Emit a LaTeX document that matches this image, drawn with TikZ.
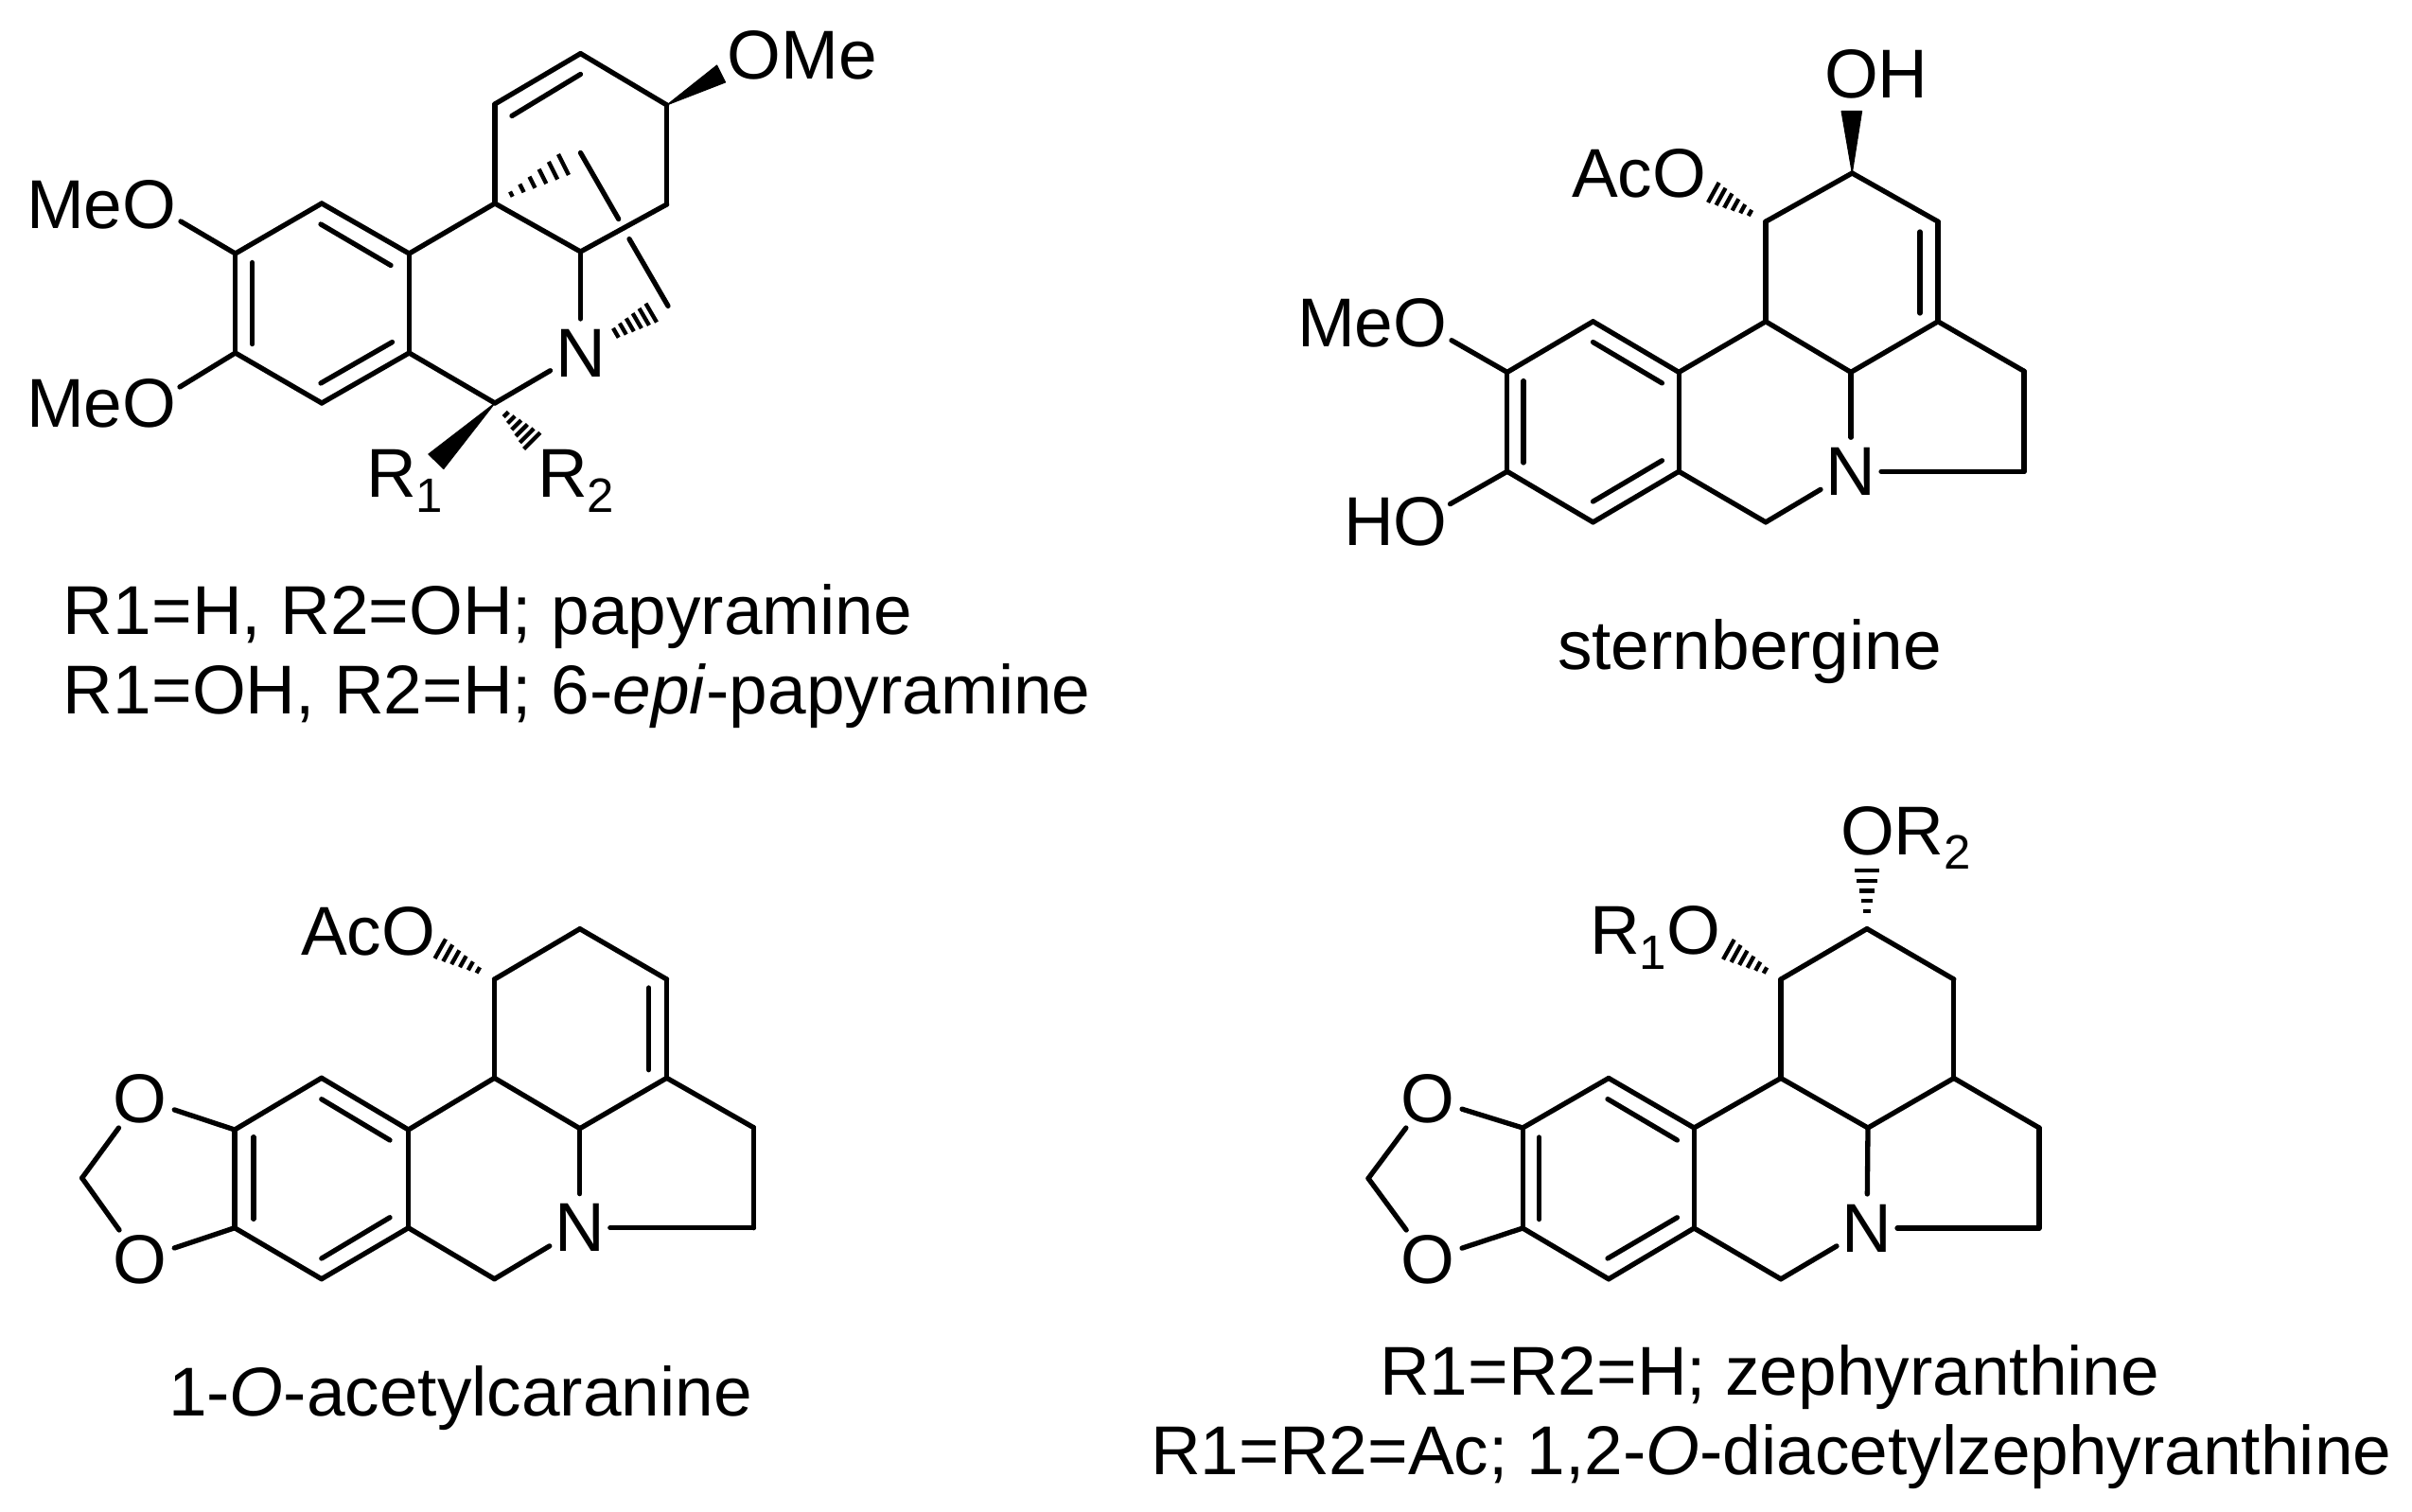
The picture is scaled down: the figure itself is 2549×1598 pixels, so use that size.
\documentclass[tikz,border=0pt]{standalone}
\usepackage{fontspec}
\setmainfont{Liberation Sans}
\usetikzlibrary{calc}
\newcommand{\sbs}[1]{\raisebox{-0.155cm}{\fontsize{14.5pt}{14.5pt}\selectfont #1}}
\newcommand{\hashbond}[5]{%
  \foreach \k in {0,...,#5}{%
    \pgfmathsetmacro{\tt}{#4+(1-#4)*\k/#5}%
    \draw[hashline] ($(#1)!\tt!(#2)$) -- ($(#1)!\tt!(#3)$);
  }}
\tikzset{
  bond/.style={line width=0.053cm,line cap=round,line join=round,black},
  hashline/.style={line width=0.043cm,black},
  wedgefill/.style={fill=black,draw=black,line width=0.01cm,line join=round},
  txt/.style={inner sep=0pt,outer sep=0pt,anchor=base west,black},
  atomN/.style={inner sep=0pt,outer sep=0pt,rectangle,minimum width=0.64cm,minimum height=0.72cm,black},
  atomO/.style={inner sep=0pt,outer sep=0pt,rectangle,minimum width=0.72cm,minimum height=0.62cm,black}
}
\begin{document}
\begin{tikzpicture}[x=0.01cm,y=-0.01cm,font=\fontsize{20.77pt}{24pt}\selectfont]
\path[use as bounding box] (0,0) rectangle (2549,1598);

% ---------- molecule 1: papyramine
\foreach \n/\x/\y in {a1/248.7/268,a2/340/215,a3/432.4/268,a4/432.4/373,a5/340/426,a6/248.7/373,
  a7/523/215,a8/613.5/266,a9/704.7/216,a10/704.7/111,a11/613.5/56.6,a12/523/110,a13/523/426,
  ai1/266.6/277.5,ai2/266.6/363.6,ai3/339/237,ai4/413/280.5,ai5/339/405,ai6/414.5/361.6,ai7/541/122.5,ai8/613.5/78.5,
  ae1/191/234,ae2/190/409,ab1/613.5/161.5,ab2/653.7/231.5,ab3/665/252.6,ab4/706/323.4,
  aw1/757.6/69,aw2/766.6/87,aw3/452.8/480,aw4/468.8/495.6,
  ah1/590/163,ah2/601/185,ah3/682.4/320.7,ah4/694/340.6,ah5/553.6/474.6,ah6/570.8/457.3}
  {\coordinate (\n) at (\x,\y);}
\node[atomN] (aN) at (613.5,373) {N};
\node[txt] (aOMe) at (768.5,84) {OMe};
\node[txt] (aMeO1) at (28,242) {MeO};
\node[txt] (aMeO2) at (28,452) {MeO};
\node[txt] (aR1) at (387,526) {R\sbs{1}};
\node[txt] (aR2) at (568,526) {R\sbs{2}};
\foreach \p/\q in {a1/a2,a2/a3,a3/a4,a4/a5,a5/a6,a6/a1,a3/a7,a7/a8,a8/a9,a9/a10,a10/a11,a11/a12,a12/a7,a4/a13,
  ai1/ai2,ai3/ai4,ai5/ai6,ai7/ai8,a1/ae1,a6/ae2,ab1/ab2,ab3/ab4}
  {\draw[bond] (\p) -- (\q);}
\draw[bond] (a8) -- (aN);
\draw[bond] (a13) -- (aN);
\fill[wedgefill] (a10) -- (aw1) -- (aw2) -- cycle;
\fill[wedgefill] (a13) -- (aw3) -- (aw4) -- cycle;
\hashbond{a7}{ah1}{ah2}{0.24}{5}
\hashbond{aN}{ah3}{ah4}{0.5}{5}
\hashbond{a13}{ah5}{ah6}{0.3}{5}

% ---------- molecule 2: sternbergine
\foreach \n/\x/\y in {b1/1592.8/393.4,b2/1683.5/339.8,b3/1774.2/393.4,b4/1774.2/498.3,b5/1683.5/551.9,b6/1592.8/498.3,
  b7/1866/339.8,b8/1866/234.2,b9/1957.3/183,b10/2048/234.2,b11/2048/339.8,b12/1956/393.4,b13/2139/392.3,b14/2139/498.3,b15/1866/551.9,
  bi1/1610/402.6,bi2/1610/489,bi3/1683.5/361.6,bi4/1756.4/404.9,bi5/1683.5/530,bi6/1756.4/486.8,bi7/2029/245,bi8/2029/331,
  be1/1534/359.7,be2/1532.5/532.7,bw1/1946/117.5,bw2/1967.6/117.5,bh1/1805/214,bh2/1816.6/193}
  {\coordinate (\n) at (\x,\y);}
\node[atomN] (bN) at (1956,498.3) {N};
\node[txt] (bOH) at (1928,104) {OH};
\node[txt] (bAcO) at (1661,209) {AcO};
\node[txt] (bMeO) at (1371,366.6) {MeO};
\node[txt] (bHO) at (1420,576.7) {HO};
\foreach \p/\q in {b1/b2,b2/b3,b3/b4,b4/b5,b5/b6,b6/b1,b3/b7,b7/b8,b8/b9,b9/b10,b10/b11,b11/b12,b12/b7,b11/b13,b13/b14,b4/b15,
  bi1/bi2,bi3/bi4,bi5/bi6,bi7/bi8,b1/be1,b6/be2}
  {\draw[bond] (\p) -- (\q);}
\draw[bond] (b12) -- (bN);
\draw[bond] (b14) -- (bN);
\draw[bond] (b15) -- (bN);
\fill[wedgefill] (b9) -- (bw1) -- (bw2) -- cycle;
\hashbond{b8}{bh1}{bh2}{0.3}{5}

% ---------- molecule 3: 1-O-acetylcaranine
\foreach \n/\x/\y in {c1/248/1194,c2/339.8/1139.3,c3/431.6/1194,c4/431.6/1297.7,c5/339.8/1351.7,c6/248/1297.7,
  c7/522.5/1139.3,c8/522.5/1035,c9/612.8/981.7,c10/704.6/1035,c11/704.6/1139.3,c12/612.8/1192.7,c13/796.4/1191.7,c14/796.4/1297.7,c15/522.5/1351.7,c16/86.7/1245,
  ci1/267.9/1201.7,ci2/267.9/1288.3,ci3/339.8/1161.7,ci4/412/1205,ci5/339.8/1330,ci6/412/1286.7,ci7/685.7/1044,ci8/685.7/1130.7,
  ch1/459.5/1013,ch2/471/992.5}
  {\coordinate (\n) at (\x,\y);}
\node[atomN] (cN) at (612.8,1297.7) {N};
\node[atomO] (cO1) at (148.2,1161) {O};
\node[atomO] (cO2) at (148.2,1331) {O};
\node[txt] (cAcO) at (318,1009.3) {AcO};
\foreach \p/\q in {c1/c2,c2/c3,c3/c4,c4/c5,c5/c6,c6/c1,c3/c7,c7/c8,c8/c9,c9/c10,c10/c11,c11/c12,c12/c7,c11/c13,c13/c14,c4/c15,
  ci1/ci2,ci3/ci4,ci5/ci6,ci7/ci8}
  {\draw[bond] (\p) -- (\q);}
\foreach \p/\q in {c12/cN,c14/cN,c15/cN,c1/cO1,c6/cO2,c16/cO1,c16/cO2}
  {\draw[bond] (\p) -- (\q);}
\hashbond{c8}{ch1}{ch2}{0.3}{5}

% ---------- molecule 4: zephyranthine
\foreach \n/\x/\y in {d1/1609.2/1192,d2/1700/1139.5,d3/1790.3/1192,d4/1790.3/1298,d5/1700/1351.8,d6/1609.2/1298,
  d7/1882/1139.5,d8/1882/1035,d9/1973/981.6,d10/2064.8/1035,d11/2064.8/1139.5,d12/1974/1192,d13/2155/1192,d14/2155/1298,d15/1882/1351.8,d16/1446/1245.4,
  di1/1626.5/1202,di2/1626.5/1288.6,di3/1699/1161.6,di4/1772.4/1205,di5/1699/1330,di6/1772.4/1286.8,
  dh1/1821/1014,dh2/1832.7/993,dh3/1960/920,dh4/1985.7/920}
  {\coordinate (\n) at (\x,\y);}
\node[atomN] (dN) at (1973,1298) {N};
\node[atomO] (dO1) at (1509,1161) {O};
\node[atomO] (dO2) at (1509,1331) {O};
\node[txt] (dOR) at (1945,903.3) {OR\sbs{2}};
\node[txt] (dRO) at (1680,1008.6) {R\sbs{1}O};
\foreach \p/\q in {d1/d2,d2/d3,d3/d4,d4/d5,d5/d6,d6/d1,d3/d7,d7/d8,d8/d9,d9/d10,d10/d11,d11/d12,d12/d7,d11/d13,d13/d14,d4/d15,
  di1/di2,di3/di4,di5/di6}
  {\draw[bond] (\p) -- (\q);}
\foreach \p/\q in {d12/dN,d14/dN,d15/dN,d1/dO1,d6/dO2,d16/dO1,d16/dO2}
  {\draw[bond] (\p) -- (\q);}
\hashbond{d8}{dh1}{dh2}{0.3}{5}
\hashbond{d9}{dh3}{dh4}{0.3}{4}

% ---------- captions
\node[txt] (cap1) at (67,670.7) {R1=H, R2=OH; papyramine};
\node[txt] (cap2) at (67,754.3) {R1=OH, R2=H; 6-\textit{epi}-papyramine};
\node[txt] (cap3) at (1646,708) {sternbergine};
\node[txt] (cap4) at (178,1496) {1-\textit{O}-acetylcaranine};
\node[txt] (cap5) at (1458,1474.7) {R1=R2=H; zephyranthine};
\node[txt] (cap6) at (1216,1558.7) {R1=R2=Ac; 1,2-\textit{O}-diacetylzephyranthine};
\end{tikzpicture}
\end{document}
